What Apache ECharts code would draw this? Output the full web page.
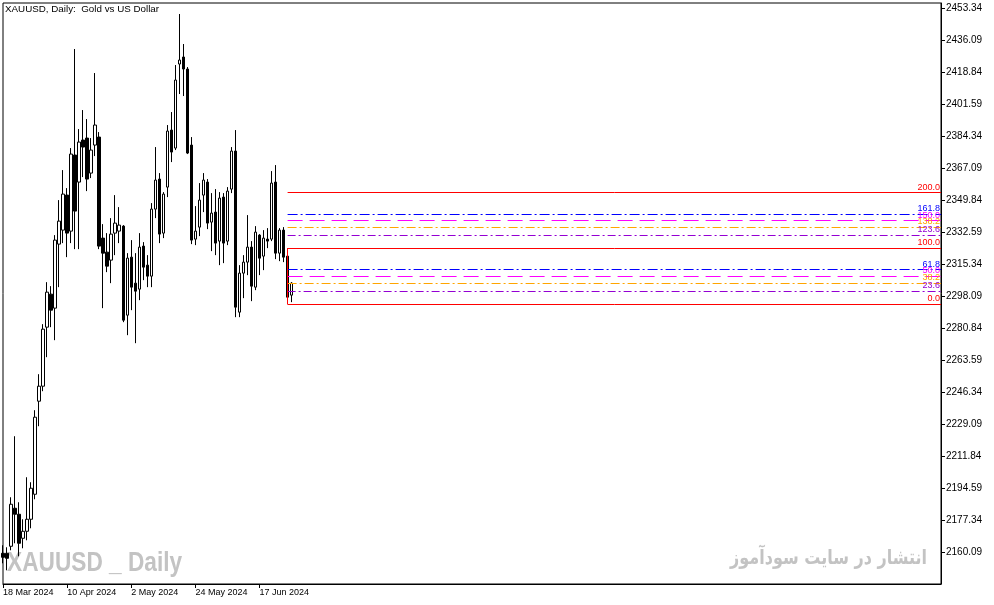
<!DOCTYPE html>
<html><head><meta charset="utf-8">
<script src="https://cdn.jsdelivr.net/npm/echarts@6/dist/echarts.min.js"></script>
<style>html,body{margin:0;padding:0;background:#fff;overflow:hidden}#c{width:994px;height:605px}</style>
</head><body><div id="c"></div>
<script>
const dates = ['18 Mar 2024','19 Mar 2024','20 Mar 2024','21 Mar 2024','22 Mar 2024','25 Mar 2024','26 Mar 2024','27 Mar 2024','28 Mar 2024','1 Apr 2024',
'2 Apr 2024','3 Apr 2024','4 Apr 2024','5 Apr 2024','8 Apr 2024','9 Apr 2024','10 Apr 2024','11 Apr 2024','12 Apr 2024','15 Apr 2024',
'16 Apr 2024','17 Apr 2024','18 Apr 2024','19 Apr 2024','22 Apr 2024','23 Apr 2024','24 Apr 2024','25 Apr 2024','26 Apr 2024','29 Apr 2024',
'30 Apr 2024','1 May 2024','2 May 2024','3 May 2024','6 May 2024','7 May 2024','8 May 2024','9 May 2024','10 May 2024','13 May 2024',
'14 May 2024','15 May 2024','16 May 2024','17 May 2024','20 May 2024','21 May 2024','22 May 2024','23 May 2024','24 May 2024','27 May 2024',
'28 May 2024','29 May 2024','30 May 2024','31 May 2024','3 Jun 2024','4 Jun 2024','5 Jun 2024','6 Jun 2024','7 Jun 2024','10 Jun 2024',
'11 Jun 2024','12 Jun 2024','13 Jun 2024','14 Jun 2024','17 Jun 2024','18 Jun 2024','19 Jun 2024','20 Jun 2024','21 Jun 2024','24 Jun 2024',
'25 Jun 2024','26 Jun 2024','27 Jun 2024'];

const opens = [2159.42,2159.42,2163.20,2183.72,2180.48,2167.52,2171.30,2177.78,2191.28,2241.50,
2249.60,2281.46,2299.28,2291.72,2326.28,2333.84,2352.74,2333.30,2374.34,2359.76,
2382.44,2383.52,2364.62,2379.74,2384.06,2329.52,2321.96,2317.64,2332.22,2333.30,
2336.00,2287.94,2319.26,2305.22,2301.98,2325.20,2314.94,2309.00,2345.18,2361.38,
2332.22,2357.06,2387.84,2378.12,2423.48,2427.26,2420.78,2379.74,2328.98,2335.46,
2352.74,2359.76,2338.16,2343.56,2327.90,2351.66,2327.90,2355.98,2376.50,2289.56,
2310.62,2316.56,2324.66,2303.06,2331.14,2319.80,2328.98,2328.98,2359.76,2321.42,
2333.84,2319.80,2298.74];
const closes = [2157.26,2156.72,2185.88,2180.48,2164.82,2171.30,2177.78,2194.52,2232.86,2249.60,
2280.38,2300.36,2290.64,2328.44,2338.70,2353.28,2332.22,2374.88,2344.10,2381.36,
2378.66,2361.38,2377.04,2390.54,2325.20,2321.42,2314.40,2331.68,2337.62,2336.54,
2285.24,2318.72,2303.06,2300.90,2324.66,2313.86,2309.00,2345.18,2360.84,2331.68,
2353.28,2387.30,2375.96,2414.84,2425.64,2420.78,2375.42,2328.44,2333.30,2350.04,
2360.84,2337.62,2343.02,2326.82,2351.12,2326.82,2354.90,2376.50,2292.26,2310.62,
2316.56,2324.66,2303.60,2332.76,2318.72,2329.52,2327.90,2359.22,2321.42,2333.84,
2319.26,2297.66,2305.22];
const lows = [2154.02,2150.24,2161.04,2164.82,2157.80,2162.12,2166.44,2172.92,2188.58,2228.00,
2246.90,2265.26,2281.46,2274.44,2303.06,2326.82,2319.26,2326.82,2323.58,2323.58,
2362.46,2354.90,2361.92,2373.80,2323.58,2291.72,2311.16,2305.22,2320.34,2326.82,
2284.16,2277.14,2290.64,2272.82,2296.04,2306.84,2303.06,2303.06,2340.32,2326.82,
2329.52,2351.66,2370.56,2377.04,2407.28,2406.20,2374.88,2326.28,2325.74,2330.60,
2343.56,2334.38,2322.50,2320.34,2314.94,2316.02,2325.74,2353.82,2286.86,2286.86,
2297.12,2309.54,2295.50,2301.44,2309.54,2312.24,2324.12,2327.90,2318.18,2317.10,
2316.56,2293.88,2294.96];
const highs = [2163.74,2162.66,2189.66,2222.60,2186.96,2177.78,2200.46,2197.76,2236.64,2256.08,
2283.08,2305.76,2303.60,2331.14,2350.04,2366.24,2356.52,2378.12,2431.58,2388.38,
2398.64,2393.78,2383.52,2418.62,2386.76,2337.08,2332.22,2340.32,2352.74,2346.26,
2336.54,2321.42,2328.44,2321.42,2332.22,2327.36,2320.34,2348.42,2378.66,2364.62,
2354.36,2390.54,2397.56,2422.94,2450.48,2434.28,2421.86,2384.06,2346.80,2359.22,
2364.62,2361.38,2353.82,2355.98,2354.36,2353.82,2357.06,2378.66,2387.84,2314.94,
2320.34,2341.94,2327.90,2336.00,2331.68,2333.84,2334.92,2365.70,2368.94,2334.92,
2335.46,2323.96,2305.76];

const priceTicks = [2160.09,2177.34,2194.59,2211.84,2229.09,2246.34,2263.59,2280.84,2298.09,
2315.34,2332.59,2349.84,2367.09,2384.34,2401.59,2418.84,2436.09,2453.34];

const fibLevels = [0, 23.6, 38.2, 50, 61.8, 100, 123.6, 138.2, 150, 161.8, 200];
const fibLow = 2293.88, fibHigh = 2323.96;   // range of the 26 Jun 2024 bar
const fibStart = 71;

const fibColors = {0:'#ff0000',23.6:'#9400d3',38.2:'#ffa500',50:'#ff00ff',61.8:'#0000ff',100:'#ff0000',
  123.6:'#9400d3',138.2:'#ffa500',150:'#ff00ff',161.8:'#0000ff',200:'#ff0000'};
const fibDash = {0:'solid',23.6:[8,3,2,3],38.2:[9,3,2,3],50:[15,7],61.8:[10,3,2,3],100:'solid',
  123.6:[8,3,2,3],138.2:[9,3,2,3],150:[15,7],161.8:[10,3,2,3],200:'solid'};

const TOTAL_SLOTS = 235;
const cats = dates.concat(new Array(TOTAL_SLOTS - dates.length).fill(''));
const lastIdx = TOTAL_SLOTS - 1;

const FONT = '"Liberation Sans", Arial, sans-serif';
const showDate = (i, v) => v !== '' && i % 16 === 0;

const fibData = fibLevels.map(lv => {
  const price = fibLow + (fibHigh - fibLow) * lv / 100;
  return [
    {coord: [fibStart, price],
     lineStyle: {color: fibColors[lv], type: fibDash[lv], width: 1},
     label: {show: true, position: 'insideEndTop', formatter: lv.toFixed(1), color: fibColors[lv],
             fontSize: 9, fontFamily: FONT, distance: 1}},
    {coord: [lastIdx, price]}
  ];
});
fibData.push([
  {coord: [fibStart, fibLow], lineStyle: {color: '#ff0000', type: 'solid', width: 1}, label: {show: false}},
  {coord: [fibStart, fibHigh]}
]);

const chart = echarts.init(document.getElementById('c'), null, {renderer: 'canvas'});
chart.setOption({
  animation: false,
  backgroundColor: '#ffffff',
  textStyle: {fontFamily: FONT},
  title: {text: 'XAUUSD, Daily:  Gold vs US Dollar', left: 5, top: 4, padding: 0,
    textStyle: {fontSize: 9.8, fontWeight: 'normal', color: '#000', fontFamily: FONT}},
  grid: {left: 3, top: 3, right: 53, bottom: 21, show: true, borderColor: '#000', borderWidth: 1,
    backgroundColor: 'transparent', containLabel: false, outerBoundsMode: 'none'},
  xAxis: {
    type: 'category', data: cats, boundaryGap: false,
    axisLine: {show: true, lineStyle: {color: '#000', width: 1}},
    axisTick: {show: true, interval: showDate, length: 4, lineStyle: {color: '#000'}},
    axisLabel: {interval: showDate, align: 'left', margin: 4, color: '#000', fontSize: 9, fontFamily: FONT, hideOverlap: false},
    splitLine: {show: false}
  },
  yAxis: {
    type: 'value', position: 'right', scale: true, min: 2142.84, max: 2456.42,
    splitLine: {show: false},
    axisLine: {show: true, lineStyle: {color: '#000', width: 1}},
    axisTick: {show: true, length: 4, lineStyle: {color: '#000'}, customValues: priceTicks},
    axisLabel: {customValues: priceTicks, formatter: v => v.toFixed(2), color: '#000', fontSize: 10,
      fontFamily: FONT, margin: 5, showMinLabel: true, showMaxLabel: true}
  },
  graphic: [
    {type: 'text', x: 7, y: 549, scaleX: 0.81, z: -10, silent: true,
     style: {text: 'XAUUSD _ Daily', x: 0, y: 0, align: 'left', verticalAlign: 'top',
       font: 'bold 28px "Liberation Sans", "DejaVu Sans", sans-serif', fill: '#c3c3c3'}},
    {type: 'text', x: 927, y: 549, scaleX: 0.8, z: -10, silent: true,
     style: {text: 'انتشار در سایت سودآموز', x: 0, y: 0, align: 'right', verticalAlign: 'top',
       font: 'bold 20px "DejaVu Sans", sans-serif', fill: '#c3c3c3'}}
  ],
  series: [{
    type: 'candlestick',
    data: dates.map((d, i) => [opens[i], closes[i], lows[i], highs[i]]),
    barWidth: 3,
    itemStyle: {color: '#ffffff', color0: '#000000', borderColor: '#000000', borderColor0: '#000000', borderWidth: 1},
    emphasis: {disabled: true},
    markLine: {symbol: ['none', 'none'], silent: true, animation: false, data: fibData}
  }]
});
</script></body></html>
